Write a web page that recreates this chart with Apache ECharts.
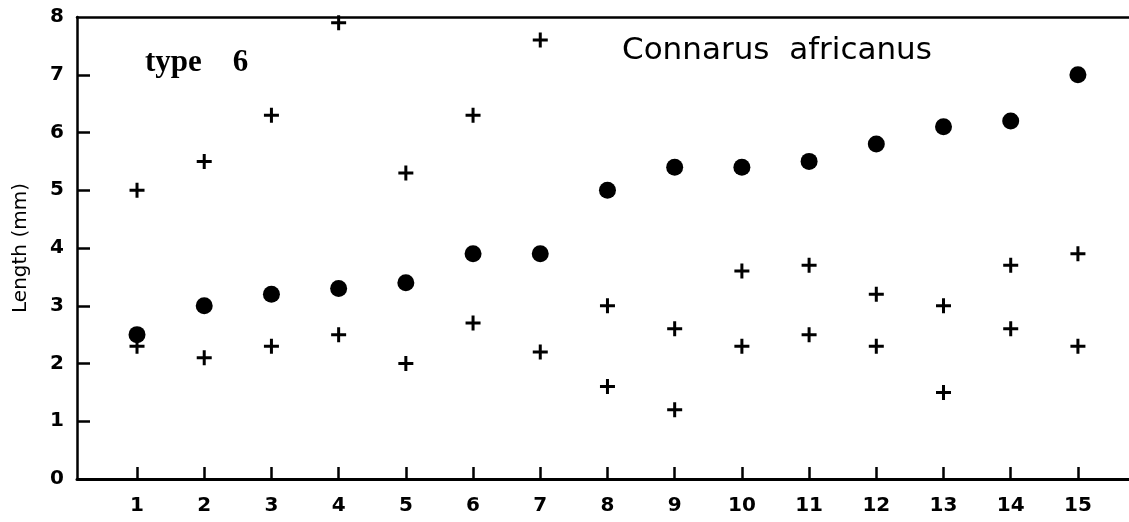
<!DOCTYPE html>
<html><head><meta charset="utf-8">
<script src="https://cdn.jsdelivr.net/npm/echarts@6/dist/echarts.min.js"></script>
<style>html,body{margin:0;padding:0;background:#fff}#c{width:1129px;height:522px}</style>
</head><body><div id="c"></div>
<script>
const categories = [1,2,3,4,5,6,7,8,9,10,11,12,13,14,15];
const meanValues = [2.5,3.0,3.2,3.3,3.4,3.9,3.9,5.0,5.4,5.4,5.5,5.8,6.1,6.2,7.0];
const upperCross = [5.0,5.5,6.3,7.9,5.3,6.3,7.6,3.0,2.6,3.6,3.7,3.2,3.0,3.7,3.9];
const lowerCross = [2.3,2.1,2.3,2.5,2.0,2.7,2.2,1.6,1.2,2.3,2.5,2.3,1.5,2.6,2.3];
const yTicks = [0,1,2,3,4,5,6,7,8];
const yAxisName = 'Length (mm)';
const typeLabel = 'type    6';
const speciesLabel = 'Connarus  africanus';

const plus = 'path://M6,0H9V6H15V9H9V15H6V9H0V6H6Z';
const pair = (vals) => categories.map((c,i)=>[c, vals[i]]);
const font = 'DejaVu Sans';

const chart = echarts.init(document.getElementById('c'), null, {renderer:'canvas'});
chart.setOption({
  animation:false,
  backgroundColor:'#fff',
  grid:{left:77, right:0, top:17, bottom:43},
  xAxis:[{
    type:'value', min:0.107, max:15.76,
    axisLine:{lineStyle:{color:'#000', width:3}},
    axisTick:{inside:true, length:12, lineStyle:{color:'#000', width:2.5}, customValues:categories},
    axisLabel:{customValues:categories, color:'#000', fontSize:20, fontWeight:'bold', fontFamily:font, margin:17},
    splitLine:{show:false}
  },{
    type:'value', position:'top', min:0.107, max:15.76,
    axisLine:{lineStyle:{color:'#000', width:2.5}},
    axisTick:{show:false}, axisLabel:{show:false}, splitLine:{show:false}
  }],
  yAxis:{
    type:'value', min:0, max:8, interval:1,
    name:yAxisName, nameLocation:'middle', nameGap:46,
    nameTextStyle:{color:'#000', fontSize:20, fontFamily:font},
    axisLine:{lineStyle:{color:'#000', width:2.5}},
    axisTick:{inside:true, length:13, lineStyle:{color:'#000', width:2.5}, customValues:yTicks.slice(1,8)},
    axisLabel:{color:'#000', fontSize:20, fontWeight:'bold', fontFamily:font, margin:13},
    splitLine:{show:false}
  },
  series:[
    {type:'scatter', data:pair(upperCross), symbol:plus, symbolSize:15, itemStyle:{color:'#000', opacity:1}},
    {type:'scatter', data:pair(lowerCross), symbol:plus, symbolSize:15, itemStyle:{color:'#000', opacity:1}},
    {type:'scatter', data:pair(meanValues), symbol:'circle', symbolSize:17, itemStyle:{color:'#000', opacity:1}}
  ],
  graphic:[
    {type:'text', left:145, top:47, style:{text:typeLabel, font:'bold 31px "Liberation Serif", serif', fill:'#000'}},
    {type:'text', left:622, top:35, style:{text:speciesLabel, font:'31px "DejaVu Sans", sans-serif', fill:'#000'}}
  ]
});
</script></body></html>
